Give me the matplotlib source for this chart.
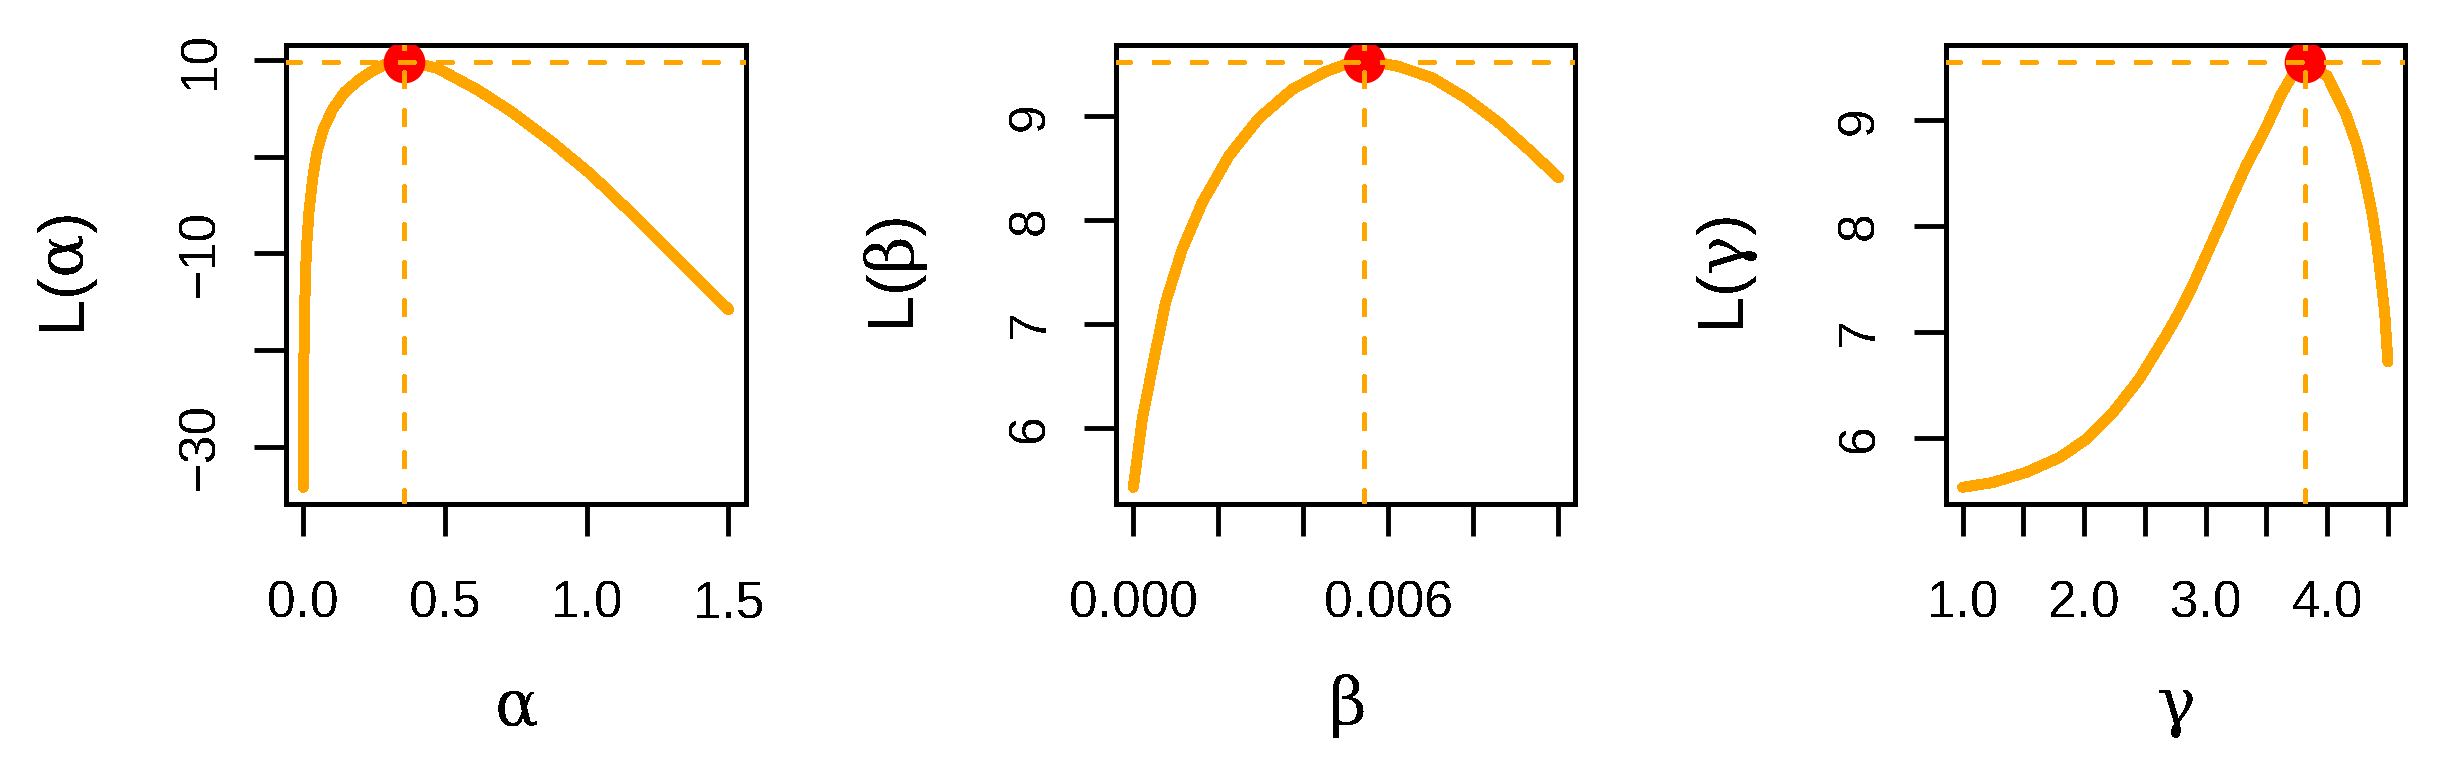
import matplotlib
matplotlib.use("Agg")
import matplotlib.pyplot as plt

plt.rcParams["font.family"] = "Liberation Sans"
plt.rcParams["mathtext.fontset"] = "custom"
plt.rcParams["mathtext.rm"] = "DejaVu Serif"
plt.rcParams["mathtext.sf"] = "Liberation Sans"
plt.rcParams["axes.unicode_minus"] = True
# the source figure was rendered without anti-aliasing
plt.rcParams["text.antialiased"] = False
plt.rcParams["lines.antialiased"] = False
plt.rcParams["patch.antialiased"] = False

# ── profile log-likelihoods ──────────────────────────────────────────────────
alpha = [0.001, 0.0024, 0.003, 0.006, 0.008, 0.013, 0.021, 0.034, 0.049, 0.072,
         0.105, 0.146, 0.201, 0.246, 0.292, 0.357, 0.429, 0.476, 0.617, 0.734,
         0.875, 1.016, 1.157, 1.298, 1.427, 1.5]
L_alpha = [-34.2, -26.3, -21.1, -16.0, -12.55, -9.12, -5.69, -2.26, 0.48, 2.89,
           4.95, 6.66, 8.04, 8.9, 9.59, 9.78, 9.49, 9.13, 6.9, 4.68,
           1.59, -1.84, -5.8, -9.92, -13.7, -15.8]
alpha_hat, L_alpha_hat = 0.357, 9.78

beta = [0.0, 0.00011, 0.000212, 0.00047, 0.00076, 0.00115, 0.00162, 0.00225,
        0.00295, 0.00374, 0.00452, 0.00499, 0.00542, 0.00585, 0.00624, 0.00703,
        0.00781, 0.00859, 0.0093, 0.0100]
L_beta = [5.43, 5.77, 6.09, 6.63, 7.21, 7.72, 8.17, 8.62,
          8.98, 9.26, 9.43, 9.50, 9.52, 9.51, 9.48, 9.37,
          9.18, 8.94, 8.68, 8.41]
beta_hat, L_beta_hat = 0.00542, 9.52

gamma = [1.0, 1.246, 1.52, 1.794, 2.013, 2.232, 2.451, 2.67, 2.78, 2.89, 3.108,
         3.218, 3.328, 3.49, 3.615, 3.71, 3.753, 3.821, 3.917, 4.0, 4.15, 4.246,
         4.314, 4.369, 4.41, 4.443, 4.473, 4.5]
L_gamma = [5.53, 5.575, 5.67, 5.81, 5.98, 6.23, 6.55, 6.96, 7.18, 7.43, 7.99,
           8.28, 8.56, 8.915, 9.23, 9.42, 9.50, 9.55, 9.48, 9.42, 9.07, 8.76,
           8.44, 8.13, 7.82, 7.50, 7.19, 6.72]
gamma_hat, L_gamma_hat = 3.821, 9.55

# ticks / labels (R drops labels that would overlap)
alpha_ticks = [0.0, 0.5, 1.0, 1.5]
alpha_ticklabels = ["0.0", "0.5", "1.0", "1.5"]
L_alpha_ticks = [-30, -20, -10, 0, 10]
L_alpha_ticklabels = ["\u221230", "", "\u221210", "", "10"]

beta_ticks = [0.0, 0.002, 0.004, 0.006, 0.008, 0.010]
beta_ticklabels = ["0.000", "", "", "0.006", "", ""]
L_beta_ticks = [6, 7, 8, 9]
L_beta_ticklabels = ["6", "7", "8", "9"]

gamma_ticks = [1.0, 1.5, 2.0, 2.5, 3.0, 3.5, 4.0, 4.5]
gamma_ticklabels = ["1.0", "", "2.0", "", "3.0", "", "4.0", ""]
L_gamma_ticks = [6, 7, 8, 9]
L_gamma_ticklabels = ["6", "7", "8", "9"]

ORANGE = "#FFA500"
RED = "#FF0000"

W, H = 2443, 764
fig = plt.figure(figsize=(W / 100, H / 100), dpi=100)


def r_lim(v):
    lo, hi = min(v), max(v)
    d = (hi - lo) * 0.04
    return lo - d, hi + d


def panel(left_px, x, y, xh, yh, xt, xtl, yt, ytl, sym):
    top_px, bot_px, w_px = 45.3, 504.3, 459.2
    ax = fig.add_axes([left_px / W, (H - bot_px) / H, w_px / W, (bot_px - top_px) / H])
    ax.plot(x, y, color=ORANGE, lw=7.2, solid_capstyle="round", solid_joinstyle="round", zorder=2)
    ax.plot([xh], [yh], "o", color=RED, ms=29, mec=RED, zorder=3)
    dash = dict(color=ORANGE, lw=3.5, dashes=(2.7, 5.0), dash_capstyle="round", zorder=4)
    ax.axhline(yh, **dash)
    ax.axvline(xh, **dash)
    ax.set_xlim(r_lim(x))
    ax.set_ylim(r_lim(y))
    ax.set_xticks(xt, labels=xtl)
    ax.set_yticks(yt, labels=ytl)
    ax.tick_params(direction="out", length=23, width=3.5, labelsize=37, color="black")
    ax.tick_params(axis="x", pad=31)
    ax.tick_params(axis="y", pad=21)
    plt.setp(ax.get_yticklabels(), rotation=90, va="center")
    for s in ax.spines.values():
        s.set_linewidth(3.5)
    h_ax = bot_px - top_px
    ax.text(0.5, 1 - (740 - top_px) / h_ax, r"$\mathrm{" + sym + "}$",
            transform=ax.transAxes, ha="center", va="bottom", fontsize=47)
    ax.text(-186 / w_px, 0.5, r"$\mathsf{L(}\mathrm{" + sym + r"}\mathsf{)}$",
            transform=ax.transAxes, ha="right", va="center", rotation=90, fontsize=47)
    return ax


panel(286.3, alpha, L_alpha, alpha_hat, L_alpha_hat, alpha_ticks, alpha_ticklabels,
      L_alpha_ticks, L_alpha_ticklabels, r"\alpha")
panel(1116.3, beta, L_beta, beta_hat, L_beta_hat, beta_ticks, beta_ticklabels,
      L_beta_ticks, L_beta_ticklabels, r"\beta")
panel(1945.7, gamma, L_gamma, gamma_hat, L_gamma_hat, gamma_ticks, gamma_ticklabels,
      L_gamma_ticks, L_gamma_ticklabels, r"\gamma")

fig.savefig("out.png", dpi=100)
